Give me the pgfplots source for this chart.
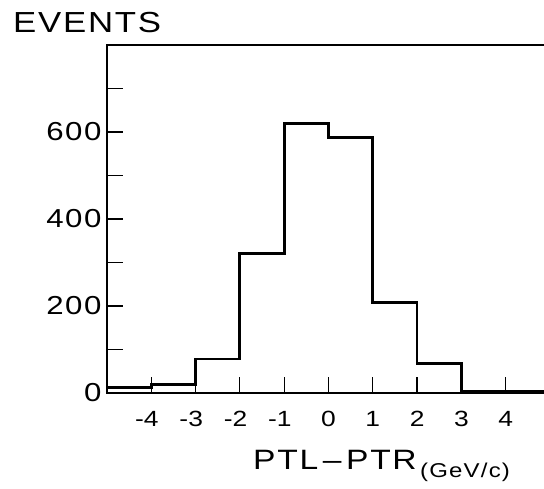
\documentclass[border=0pt]{standalone}
\usepackage{pgfplots}
\pgfplotsset{compat=1.18}
\usepackage{fontspec}
\setmainfont{Liberation Sans}[FakeStretch=1.2, LetterSpace=6]
\begin{document}
\begin{tikzpicture}
\begin{axis}[name=ax, scale only axis, width=443pt, height=348pt,
  xmin=-5, xmax=5, ymin=0, ymax=800,
  axis line style={line width=1.6pt},
  xtick={-4,-3,-2,-1,0,1,2,3,4},
  xticklabels={\llap{-}4,\llap{-}3,\llap{-}2,\llap{-}1,0,1,2,3,4},
  ytick={0,100,200,300,400,500,600,700},
  yticklabels={0,,200,,400,,600,},
  xtick pos=bottom, ytick pos=left, tick align=inside,
  major tick length=16pt,
  tick style={line width=1.2pt, black},
  xticklabel style={font=\fontsize{22}{22}\selectfont, anchor=base, yshift=-34pt},
  yticklabel style={font=\fontsize{26}{26}\selectfont, xshift=-2pt}]
\addplot[const plot, line width=2.8pt, black] coordinates {
(-5,12) (-4,20) (-3,78) (-2,320) (-1,620) (0,588) (1,208) (2,68) (3,3) (4,3) (5,3)};
\end{axis}
\node[anchor=base west, inner sep=0, font=\fontsize{29}{29}\selectfont]
  at ([shift={(-94pt,12pt)}]ax.north west) {EVENTS};
\node[anchor=base west, inner sep=0, font=\fontsize{28}{28}\selectfont]
  at ([shift={(146pt,-77pt)}]ax.south west)
  {PTL\,--\,PTR\raisebox{-8pt}{\fontsize{20}{20}\selectfont\,(GeV/c)}};
\pgfresetboundingbox
\useasboundingbox ([shift={(-107pt,-96pt)}]ax.south west) rectangle ([shift={(437pt,393pt)}]ax.south west);
\end{tikzpicture}
\end{document}
